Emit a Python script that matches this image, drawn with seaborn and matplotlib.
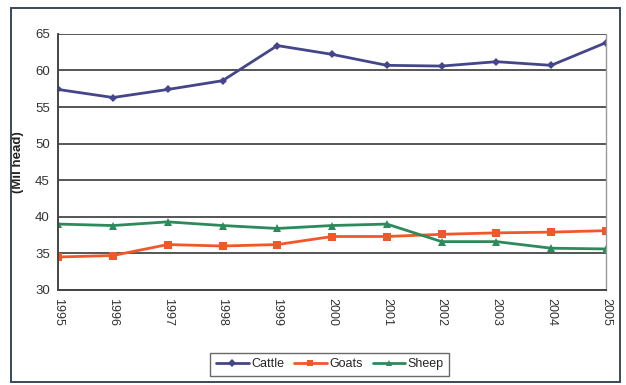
import matplotlib
matplotlib.use("Agg")
import matplotlib.pyplot as plt
import seaborn as sns
import pandas as pd
from matplotlib.patches import Rectangle

years = [1995, 1996, 1997, 1998, 1999, 2000, 2001, 2002, 2003, 2004, 2005]
cattle = [57.4, 56.3, 57.4, 58.6, 63.4, 62.2, 60.7, 60.6, 61.2, 60.7, 63.8]
goats = [34.5, 34.7, 36.2, 36.0, 36.2, 37.3, 37.3, 37.6, 37.8, 37.9, 38.1]
sheep = [39.0, 38.8, 39.3, 38.8, 38.4, 38.8, 39.0, 36.6, 36.6, 35.7, 35.6]
series_names = ["Cattle", "Goats", "Sheep"]
y_ticks = [30, 35, 40, 45, 50, 55, 60, 65]

df = pd.DataFrame({
    "Year": years * 3,
    "Head": cattle + goats + sheep,
    "Species": [s for s in series_names for _ in years],
})

sns.set_style("white")
plt.rcParams["font.family"] = ["Liberation Sans", "DejaVu Sans"]

palette = {"Cattle": "#45458a", "Goats": "#f0582a", "Sheep": "#2c8a5c"}
markers = {"Cattle": "D", "Goats": "s", "Sheep": "^"}

fig = plt.figure(figsize=(6.26, 3.85), dpi=100)
ax = fig.add_axes([0.093, 0.247, 0.875, 0.665])

sns.lineplot(data=df, x="Year", y="Head", hue="Species", style="Species",
             palette=palette, markers=markers, dashes=False, linewidth=2.0,
             markersize=6, markeredgewidth=0, ax=ax, legend=True)

# cattle diamonds are drawn a little smaller than the other markers
for line in ax.lines:
    if line.get_marker() == "D":
        line.set_markersize(4.5)

ax.set_xlim(years[0], years[-1])
ax.set_ylim(30, 65)
ax.set_yticks(y_ticks)
ax.set_xticks(years)
ax.set_xticklabels([str(y) for y in years], rotation=270, fontsize=9, color="#333333")
ax.set_yticklabels([str(v) for v in y_ticks], fontsize=9.5, color="#333333")
ax.yaxis.grid(True, color="#555555", linewidth=1.4)
ax.set_axisbelow(True)
ax.set_xlabel("")
ax.set_ylabel("(Mil head)", fontsize=9.5, fontweight="bold", color="#222222", labelpad=8)
ax.tick_params(axis="both", which="both", direction="out", length=3, width=1,
               color="#444444", pad=3)

for side in ["left", "bottom"]:
    ax.spines[side].set_color("#444444")
    ax.spines[side].set_linewidth(1.4)
ax.spines["top"].set_visible(False)
ax.spines["right"].set_color("#999999")
ax.spines["right"].set_linewidth(1.0)

handles, labels = ax.get_legend_handles_labels()
for h in handles:
    h.set_markersize(4.5)
leg = ax.legend(handles, labels, loc="center", bbox_to_anchor=(0.496, -0.29),
                ncol=3, frameon=True, fancybox=False, fontsize=9,
                handlelength=2.6, handletextpad=0.2, columnspacing=0.8,
                borderpad=0.45, edgecolor="#444444")
leg.get_frame().set_linewidth(1.0)

# outer frame around the whole figure
fig.patches.append(Rectangle((11 / 626, 3 / 385), 609 / 626, 374 / 385,
                             transform=fig.transFigure, fill=False,
                             edgecolor="#3a4a5a", linewidth=1.4))

fig.savefig("out.png", dpi=100)
